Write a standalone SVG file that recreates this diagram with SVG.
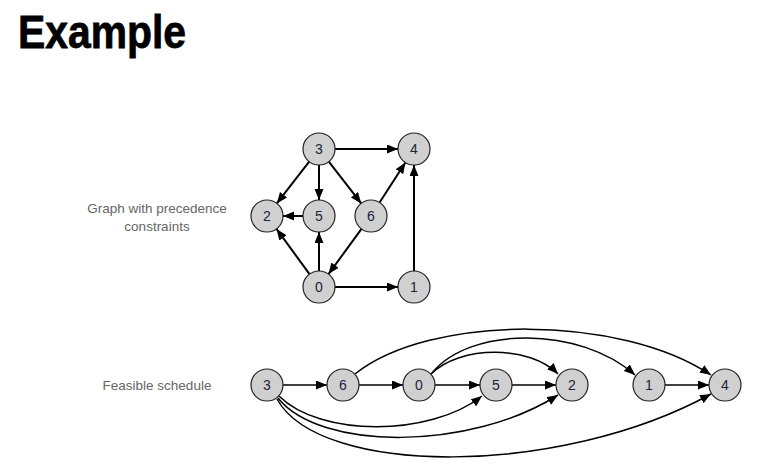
<svg xmlns="http://www.w3.org/2000/svg" width="762" height="465" viewBox="0 0 762 465">
<defs>
<marker id="ah" markerUnits="userSpaceOnUse" markerWidth="12" markerHeight="10" refX="11" refY="4.5" orient="auto">
<path d="M0,0 L11,4.5 L0,9 Z" fill="#000"/>
</marker>
</defs>
<style>
.n circle{fill:#d0d0d0;stroke:#222;stroke-width:1.2}
.n text{font-family:"Liberation Sans","Noto Sans",sans-serif;font-size:14px;fill:#1a2538;text-anchor:middle;dominant-baseline:central}
.e path,.e line{fill:none;stroke:#000;stroke-width:2;marker-end:url(#ah)}
.e2 path,.e2 line{fill:none;stroke:#000;stroke-width:1.5;marker-end:url(#ah)}
.lbl{font-family:"Liberation Sans","Noto Sans",sans-serif;font-size:13.5px;fill:#666;text-anchor:middle}
</style>
<rect width="762" height="465" fill="#fff"/>
<text x="18" y="48" font-family="Liberation Sans, Arial, sans-serif" font-weight="bold" font-size="47" textLength="168" lengthAdjust="spacingAndGlyphs" fill="#000" stroke="#000" stroke-width="0.8">Example</text>
<text class="lbl" x="157" y="213">Graph with precedence</text>
<text class="lbl" x="157" y="231">constraints</text>
<text class="lbl" x="157" y="390">Feasible schedule</text>

<g id="edges-top" class="e">
<line x1="335" y1="149" x2="398" y2="149"/>
<line x1="309.2" y1="161.6" x2="276.8" y2="203.4"/>
<line x1="319" y1="165" x2="319" y2="200"/>
<line x1="328.8" y1="161.6" x2="361.2" y2="203.4"/>
<line x1="303" y1="216" x2="283" y2="216"/>
<line x1="379.6" y1="202.5" x2="405.4" y2="162.5"/>
<line x1="361.5" y1="228.9" x2="328.5" y2="274.1"/>
<line x1="309.5" y1="274.1" x2="276.5" y2="228.9"/>
<line x1="319" y1="271" x2="319" y2="232"/>
<line x1="335" y1="287" x2="398" y2="287"/>
<line x1="414" y1="271" x2="414" y2="165"/>
</g>

<g id="edges-bottom" class="e2">
<line x1="283" y1="385" x2="327" y2="385"/>
<line x1="359" y1="385" x2="403" y2="385"/>
<line x1="435" y1="385" x2="480" y2="385"/>
<line x1="512" y1="385" x2="556" y2="385"/>
<line x1="665" y1="385" x2="709" y2="385"/>
<path d="M355,374 C430,314 620,314 711,375"/>
<path d="M431,374 C460,345 530,345 558,374"/>
<path d="M432,373 C470,326 580,326 635,375"/>
<path d="M279,396 C320,437 430,437 482,396"/>
<path d="M278,398 C320,451 470,451 558,395"/>
<path d="M277,399 C320,477 560,477 711,394"/>
</g>

<g id="t3" class="n"><circle cx="319" cy="149" r="16"/><text x="319" y="149">3</text></g>
<g id="t4" class="n"><circle cx="414" cy="149" r="16"/><text x="414" y="149">4</text></g>
<g id="t2" class="n"><circle cx="267" cy="216" r="16"/><text x="267" y="216">2</text></g>
<g id="t5" class="n"><circle cx="319" cy="216" r="16"/><text x="319" y="216">5</text></g>
<g id="t6" class="n"><circle cx="371" cy="216" r="16"/><text x="371" y="216">6</text></g>
<g id="t0" class="n"><circle cx="319" cy="287" r="16"/><text x="319" y="287">0</text></g>
<g id="t1" class="n"><circle cx="414" cy="287" r="16"/><text x="414" y="287">1</text></g>

<g id="b3" class="n"><circle cx="267" cy="385" r="16"/><text x="267" y="385">3</text></g>
<g id="b6" class="n"><circle cx="343" cy="385" r="16"/><text x="343" y="385">6</text></g>
<g id="b0" class="n"><circle cx="419" cy="385" r="16"/><text x="419" y="385">0</text></g>
<g id="b5" class="n"><circle cx="496" cy="385" r="16"/><text x="496" y="385">5</text></g>
<g id="b2" class="n"><circle cx="572" cy="385" r="16"/><text x="572" y="385">2</text></g>
<g id="b1" class="n"><circle cx="649" cy="385" r="16"/><text x="649" y="385">1</text></g>
<g id="b4" class="n"><circle cx="725" cy="385" r="16"/><text x="725" y="385">4</text></g>
</svg>
